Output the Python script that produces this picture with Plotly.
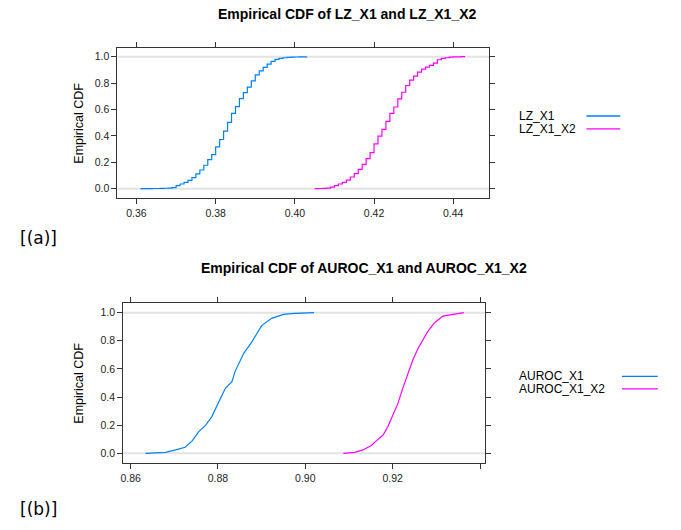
import plotly.graph_objects as go

# ---------------- data ----------------
lz_x1_x = [0.361, 0.362, 0.363, 0.364, 0.365, 0.366, 0.367, 0.368, 0.369, 0.370,
           0.371, 0.372, 0.373, 0.374, 0.375, 0.376, 0.377, 0.378, 0.379, 0.380,
           0.381, 0.382, 0.383, 0.384, 0.385, 0.386, 0.387, 0.388, 0.389, 0.390,
           0.391, 0.392, 0.393, 0.394, 0.395, 0.396, 0.397, 0.398, 0.399, 0.400,
           0.401, 0.402, 0.403]
lz_x1_y = [0.001, 0.001, 0.001, 0.002, 0.002, 0.003, 0.004, 0.005, 0.008, 0.023,
           0.036, 0.048, 0.063, 0.084, 0.112, 0.142, 0.178, 0.221, 0.259, 0.317,
           0.373, 0.437, 0.503, 0.571, 0.622, 0.683, 0.728, 0.769, 0.817, 0.863,
           0.893, 0.919, 0.944, 0.964, 0.980, 0.987, 0.992, 0.995, 0.997, 0.998,
           0.999, 0.9995, 1.0]

lz_x1_x2_x = [0.405, 0.406, 0.407, 0.408, 0.409, 0.410, 0.411, 0.412, 0.413, 0.414,
              0.415, 0.416, 0.417, 0.418, 0.419, 0.420, 0.421, 0.422, 0.423, 0.424,
              0.425, 0.426, 0.427, 0.428, 0.429, 0.430, 0.431, 0.432, 0.433, 0.434,
              0.435, 0.436, 0.437, 0.438, 0.439, 0.440, 0.441, 0.442, 0.443]
lz_x1_x2_y = [0.001, 0.002, 0.003, 0.005, 0.013, 0.023, 0.036, 0.048, 0.066, 0.089,
              0.114, 0.147, 0.185, 0.228, 0.274, 0.340, 0.398, 0.449, 0.510, 0.571,
              0.619, 0.680, 0.731, 0.782, 0.822, 0.853, 0.883, 0.906, 0.921, 0.934,
              0.952, 0.977, 0.987, 0.992, 0.997, 0.999, 0.9995, 1.0, 1.0]

auroc_x1_x = [0.8634, 0.8680, 0.8703, 0.8725, 0.8741, 0.8756, 0.8771, 0.8786, 0.8802,
              0.8817, 0.8832, 0.8839, 0.8859, 0.8878, 0.8900, 0.8923, 0.8950, 0.8976,
              0.9020]
auroc_x1_y = [0.0, 0.007, 0.024, 0.043, 0.088, 0.154, 0.197, 0.261, 0.367,
              0.462, 0.509, 0.581, 0.711, 0.794, 0.908, 0.960, 0.988, 0.995,
              1.0]

auroc_x1_x2_x = [0.9087, 0.9113, 0.9132, 0.9151, 0.9163, 0.9178, 0.9189, 0.9201, 0.9212,
                 0.9223, 0.9235, 0.9246, 0.9258, 0.9269, 0.9280, 0.9296, 0.9315, 0.9338,
                 0.9363]
auroc_x1_x2_y = [0.0, 0.007, 0.024, 0.055, 0.090, 0.130, 0.190, 0.273, 0.355,
                 0.462, 0.569, 0.664, 0.746, 0.806, 0.865, 0.929, 0.976, 0.988,
                 1.0]

top_xticks = [0.36, 0.38, 0.40, 0.42, 0.44]
top_xticklabels = ["0.36", "0.38", "0.40", "0.42", "0.44"]
bot_xticks = [0.86, 0.88, 0.90, 0.92, 0.94]
bot_xticklabels = ["0.86", "0.88", "0.90", "0.92", ""]
yticks = [0.0, 0.2, 0.4, 0.6, 0.8, 1.0]
yticklabels = ["0.0", "0.2", "0.4", "0.6", "0.8", "1.0"]

BLUE = "#0080ff"
MAGENTA = "#ff00ff"
W, H = 681, 530

def px(x):
    return x / W

def py(y):
    return 1 - y / H

fig = go.Figure()
fig.add_trace(go.Scatter(x=lz_x1_x, y=lz_x1_y, mode="lines", line=dict(color=BLUE, width=1.2, shape="hv"),
                         xaxis="x", yaxis="y", name="LZ_X1", showlegend=False))
fig.add_trace(go.Scatter(x=lz_x1_x2_x, y=lz_x1_x2_y, mode="lines", line=dict(color=MAGENTA, width=1.2, shape="hv"),
                         xaxis="x", yaxis="y", name="LZ_X1_X2", showlegend=False))
fig.add_trace(go.Scatter(x=auroc_x1_x, y=auroc_x1_y, mode="lines", line=dict(color=BLUE, width=1.2),
                         xaxis="x2", yaxis="y2", name="AUROC_X1", showlegend=False))
fig.add_trace(go.Scatter(x=auroc_x1_x2_x, y=auroc_x1_x2_y, mode="lines", line=dict(color=MAGENTA, width=1.2),
                         xaxis="x2", yaxis="y2", name="AUROC_X1_X2", showlegend=False))

tickfont = dict(family="Liberation Sans, Arial, sans-serif", size=10.5, color="#222")
common_ax = dict(showgrid=False, zeroline=False, showline=True, linecolor="#333", linewidth=1,
                 mirror="ticks", ticks="outside", ticklen=5, tickcolor="#333", tickwidth=1,
                 tickfont=tickfont)

fig.update_layout(
    width=W, height=H, margin=dict(l=0, r=0, t=0, b=0),
    paper_bgcolor="white", plot_bgcolor="white", showlegend=False,
    xaxis=dict(domain=[px(115), px(488)], range=[0.3552, 0.449], anchor="y",
               tickvals=top_xticks, ticktext=top_xticklabels, **common_ax),
    yaxis=dict(domain=[py(198), py(48)], range=[-0.07, 1.066], anchor="x",
               tickvals=yticks, ticktext=yticklabels, **common_ax),
    xaxis2=dict(domain=[px(120.7), px(484)], range=[0.8583, 0.9411], anchor="y2",
                tickvals=bot_xticks, ticktext=bot_xticklabels, **common_ax),
    yaxis2=dict(domain=[py(463), py(302.7)], range=[-0.069, 1.071], anchor="x2",
                tickvals=yticks, ticktext=yticklabels, **common_ax),
)

# reference lines at 0 and 1
for xr, yr in (("x domain", "y"), ("x2 domain", "y2")):
    for yv in (0.0, 1.0):
        fig.add_shape(type="line", xref=xr, yref=yr, x0=0, x1=1, y0=yv, y1=yv,
                      line=dict(color="#e3e3e3", width=2), layer="below")

titlefont = dict(family="Liberation Sans, Arial, sans-serif", size=14, color="black")
fig.add_annotation(x=px(346), y=py(14), xref="paper", yref="paper", showarrow=False,
                   xanchor="center", yanchor="middle",
                   text="<b>Empirical CDF of LZ_X1 and LZ_X1_X2</b>", font=titlefont)
fig.add_annotation(x=px(363), y=py(268), xref="paper", yref="paper", showarrow=False,
                   xanchor="center", yanchor="middle",
                   text="<b>Empirical CDF of AUROC_X1 and AUROC_X1_X2</b>", font=titlefont)

labfont = dict(family="Liberation Sans, Arial, sans-serif", size=12.5, color="black")
fig.add_annotation(x=px(76), y=py(123), xref="paper", yref="paper", showarrow=False,
                   xanchor="center", yanchor="middle",
                   text="Empirical CDF", textangle=-90, font=labfont)
fig.add_annotation(x=px(76), y=py(383), xref="paper", yref="paper", showarrow=False,
                   xanchor="center", yanchor="middle",
                   text="Empirical CDF", textangle=-90, font=labfont)

# legends (text left, line right, as in lattice key)
legfont = dict(family="Liberation Sans, Arial, sans-serif", size=12, color="black")
legends = [
    ("LZ_X1", BLUE, 116.0, 586, 620),
    ("LZ_X1_X2", MAGENTA, 128.8, 586, 620),
    ("AUROC_X1", BLUE, 376.3, 621.7, 657.7),
    ("AUROC_X1_X2", MAGENTA, 388.8, 621.7, 657.7),
]
for txt, col, yy, lx0, lx1 in legends:
    fig.add_annotation(x=px(516.5), y=py(yy), xref="paper", yref="paper", showarrow=False,
                       text=txt, xanchor="left", yanchor="middle", font=legfont)
    fig.add_shape(type="line", xref="paper", yref="paper", x0=px(lx0), x1=px(lx1),
                  y0=py(yy), y1=py(yy), line=dict(color=col, width=1.3))

panfont = dict(family="DejaVu Sans, sans-serif", size=17, color="black")
fig.add_annotation(x=px(15), y=py(238), xref="paper", yref="paper", showarrow=False,
                   text="[(a)]", xanchor="left", yanchor="middle", font=panfont)
fig.add_annotation(x=px(15), y=py(509), xref="paper", yref="paper", showarrow=False,
                   text="[(b)]", xanchor="left", yanchor="middle", font=panfont)

fig.write_html("out.html", config={"displayModeBar": False},
               post_script="document.body.style.margin='0';")
